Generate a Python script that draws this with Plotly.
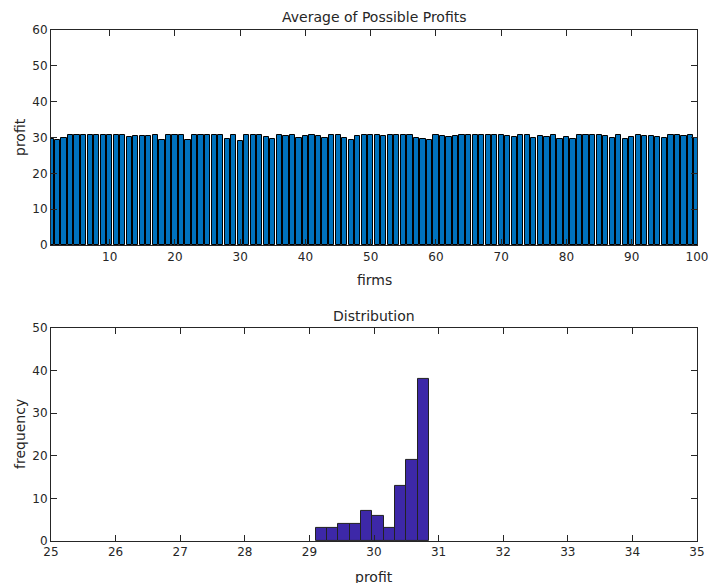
import plotly.graph_objects as go

firms = list(range(1, 101))
profits = [
    29.47, 29.32, 29.76, 30.76, 30.77, 30.76, 30.77, 30.80, 30.66, 30.76,
    30.60, 30.61, 30.20, 30.45, 30.46, 30.54, 30.83, 29.32, 30.76, 30.83,
    30.60, 29.40, 30.76, 30.77, 30.76, 30.80, 30.66, 29.68, 30.80, 29.14,
    30.76, 30.77, 30.76, 30.06, 29.53, 30.76, 30.54, 30.66, 29.84, 30.38,
    30.80, 30.45, 29.99, 30.76, 30.77, 29.84, 29.22, 30.45, 30.60, 30.76,
    30.77, 30.34, 30.80, 30.80, 30.60, 30.83, 29.93, 29.68, 29.22, 30.66,
    30.45, 30.27, 30.54, 30.76, 30.60, 30.77, 30.76, 30.77, 30.76, 30.60,
    30.45, 30.12, 30.66, 30.76, 29.84, 30.45, 30.06, 30.60, 29.68, 30.02,
    29.60, 30.77, 30.80, 30.76, 30.77, 30.45, 29.93, 30.66, 29.53, 30.27,
    30.60, 30.45, 30.38, 30.12, 29.93, 30.80, 30.80, 30.45, 30.60, 29.93,
]
top_xticks = [10, 20, 30, 40, 50, 60, 70, 80, 90, 100]
top_yticks = [0, 10, 20, 30, 40, 50, 60]
bot_xticks = list(range(25, 36))
bot_yticks = [0, 10, 20, 30, 40, 50]

FONT = "DejaVu Sans, sans-serif"
TXT = "#262626"

fig = go.Figure()
fig.add_trace(go.Bar(x=firms, y=profits, width=0.8,
                     marker=dict(color="#0072BD", line=dict(color="black", width=1)),
                     xaxis="x", yaxis="y", showlegend=False))
fig.add_trace(go.Histogram(x=profits, xbins=dict(start=29.10, end=30.85, size=0.175),
                           marker=dict(color="rgb(61,40,168)", line=dict(color="#222222", width=1)),
                           xaxis="x2", yaxis="y2", showlegend=False))

ax_common = dict(showgrid=False, zeroline=False, showline=True, linecolor="#262626",
                 linewidth=1, mirror="allticks", ticks="inside", ticklen=6,
                 tickcolor="#262626", automargin=False,
                 tickfont=dict(family=FONT, size=12, color=TXT))

fig.update_layout(
    width=710, height=583,
    margin=dict(l=51, r=13, t=30, b=42),
    paper_bgcolor="white", plot_bgcolor="white",
    bargap=0,
    xaxis=dict(domain=[0, 1], range=[1, 100], tickvals=top_xticks, anchor="y", **ax_common),
    yaxis=dict(domain=[0.579, 1], range=[0, 60], tickvals=top_yticks, anchor="x", **ax_common),
    xaxis2=dict(domain=[0, 1], range=[25, 35], tickvals=bot_xticks, anchor="y2", **ax_common),
    yaxis2=dict(domain=[0, 0.417], range=[0, 50], tickvals=bot_yticks, anchor="x2", **ax_common),
)

def ann(text, x, y, angle=0):
    fig.add_annotation(text=text, x=x, y=y, xref="paper", yref="paper", showarrow=False,
                       xanchor="center", yanchor="middle", textangle=angle,
                       font=dict(family=FONT, size=14, color=TXT))

H = 511.0
def py(pix):
    return (541 - pix) / H

def px(pix):
    return (pix - 51) / 646.0

ann("Average of Possible Profits", px(374), py(17))
ann("firms", px(374), py(280))
ann("profit", px(20), py(137), -90)
ann("Distribution", px(374), py(316))
ann("profit", px(374), py(577))
ann("frequency", px(20), py(434), -90)

fig.write_html("out.html")
